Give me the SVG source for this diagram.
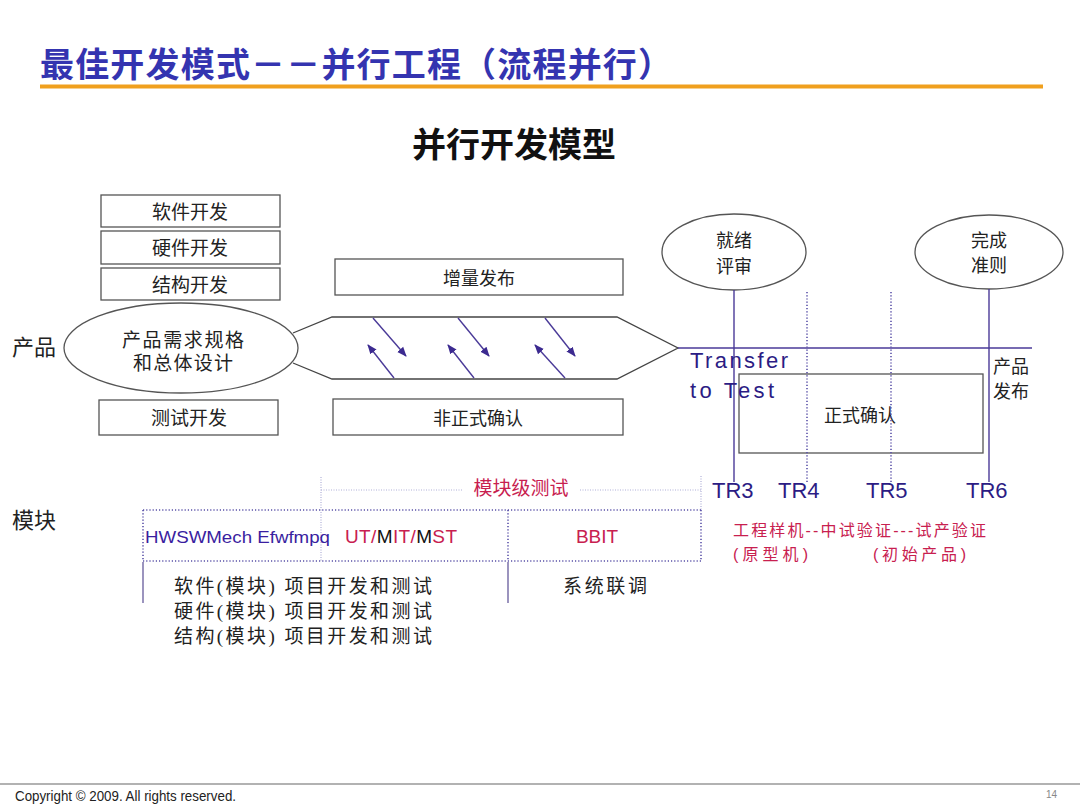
<svg xmlns="http://www.w3.org/2000/svg" width="1080" height="810" viewBox="0 0 1080 810">
<defs>
<style>
.cjk{font-family:"Liberation Serif","Noto Sans CJK SC",serif;fill:#222}
.box{fill:#fff;stroke:#555;stroke-width:1.3}
.pl{stroke:#4a3a98;stroke-width:1.4;fill:none}
.dot{stroke:#5a52a8;stroke-width:1.6;stroke-dasharray:1.2 2;fill:none}
.ldot{stroke:#b0b0d8;stroke-width:1.2;stroke-dasharray:1 1.5;fill:none}
.tr{font-family:"Liberation Sans","Noto Sans CJK SC",sans-serif;font-size:22px;fill:#2c1c84}
.red{font-family:"Liberation Sans","Noto Sans CJK SC",sans-serif;fill:#c8204f}
</style>
<marker id="ah" viewBox="0 0 10 10" refX="9" refY="5" markerWidth="7" markerHeight="7" orient="auto-start-reverse">
<path d="M0,1 L10,5 L0,9 z" fill="#3c2a90"/>
</marker>
</defs>
<rect width="1080" height="810" fill="#fff"/>

<g id="title">
<text x="40" y="77" font-family="Noto Sans CJK SC, sans-serif" font-weight="bold" font-size="34" fill="#3434b0" textLength="632" lengthAdjust="spacing">最佳开发模式－－并行工程（流程并行）</text>
<line x1="40" y1="86.5" x2="1043" y2="86.5" stroke="#f0a01e" stroke-width="4"/>
</g>
<text id="subtitle" x="514" y="157" text-anchor="middle" font-family="Noto Sans CJK SC, sans-serif" font-weight="bold" font-size="34" fill="#111">并行开发模型</text>

<text id="lbl-product" x="12" y="355" class="cjk" font-size="22">产品</text>
<text id="lbl-module" x="12" y="528" class="cjk" font-size="22">模块</text>

<g id="n-sw"><rect class="box" x="101" y="195" width="179" height="32"/><text class="cjk" x="190" y="219" font-size="19" text-anchor="middle">软件开发</text></g>
<g id="n-hw"><rect class="box" x="101" y="231" width="179" height="33"/><text class="cjk" x="190" y="255" font-size="19" text-anchor="middle">硬件开发</text></g>
<g id="n-mech"><rect class="box" x="101" y="268" width="179" height="32"/><text class="cjk" x="190" y="292" font-size="19" text-anchor="middle">结构开发</text></g>
<g id="n-test"><rect class="box" x="99" y="400" width="179" height="35"/><text class="cjk" x="189" y="425" font-size="19" text-anchor="middle">测试开发</text></g>

<g id="n-spec"><ellipse class="box" cx="181" cy="348" rx="117" ry="45"/>
<text class="cjk" x="122" y="347" font-size="19" textLength="122" lengthAdjust="spacing">产品需求规格</text>
<text class="cjk" x="133" y="370" font-size="19" textLength="100" lengthAdjust="spacing">和总体设计</text></g>

<g id="n-incr"><rect class="box" x="335" y="259" width="288" height="36"/><text class="cjk" x="479" y="285" font-size="18" text-anchor="middle">增量发布</text></g>
<g id="n-informal"><rect class="box" x="333" y="399" width="290" height="36"/><text class="cjk" x="478" y="425" font-size="18" text-anchor="middle">非正式确认</text></g>

<g id="n-hex"><path d="M293,333 L332,317 L617,317 L678,348 L617,379 L332,379 L293,363" fill="none" stroke="#444" stroke-width="1.3"/></g>

<g id="n-ready"><ellipse class="box" cx="734" cy="252" rx="72" ry="38"/>
<text class="cjk" x="734" y="247" font-size="18" text-anchor="middle">就绪</text>
<text class="cjk" x="734" y="273" font-size="18" text-anchor="middle">评审</text></g>
<g id="n-done"><ellipse class="box" cx="989" cy="252" rx="74" ry="37"/>
<text class="cjk" x="989" y="247" font-size="18" text-anchor="middle">完成</text>
<text class="cjk" x="989" y="272" font-size="18" text-anchor="middle">准则</text></g>

<g id="n-formal"><rect class="box" x="739" y="374" width="244" height="79" fill="none"/>
<text class="cjk" x="860" y="422" font-size="18" text-anchor="middle">正式确认</text></g>

<g id="connectors">
<line class="pl" x1="678" y1="348" x2="1032" y2="348"/>
<line class="pl" x1="734" y1="290" x2="734" y2="482"/>
<line class="pl" x1="989" y1="289" x2="989" y2="482"/>
<line class="dot" x1="807" y1="292" x2="807" y2="482"/>
<line class="dot" x1="891" y1="292" x2="891" y2="482"/>
<line class="pl" stroke-width="1.1" x1="373" y1="318" x2="406" y2="356" marker-end="url(#ah)"/>
<line class="pl" stroke-width="1.1" x1="458" y1="318" x2="489" y2="356" marker-end="url(#ah)"/>
<line class="pl" stroke-width="1.1" x1="545" y1="318" x2="575" y2="356" marker-end="url(#ah)"/>
<line class="pl" stroke-width="1.1" x1="394" y1="378" x2="368" y2="345" marker-end="url(#ah)"/>
<line class="pl" stroke-width="1.1" x1="474" y1="378" x2="448" y2="345" marker-end="url(#ah)"/>
<line class="pl" stroke-width="1.1" x1="565" y1="378" x2="535" y2="345" marker-end="url(#ah)"/>
<line class="ldot" x1="321" y1="490" x2="462" y2="490"/>
<line class="ldot" x1="580" y1="490" x2="701" y2="490"/>
<line class="ldot" x1="321" y1="477" x2="321" y2="561"/>
<line class="ldot" x1="701" y1="476" x2="701" y2="510"/>
<line class="dot" x1="143" y1="510" x2="701" y2="510"/>
<line class="dot" x1="143" y1="561" x2="701" y2="561"/>
<line class="dot" x1="143" y1="510" x2="143" y2="561"/>
<line class="dot" x1="508" y1="510" x2="508" y2="561"/>
<line class="dot" x1="701" y1="510" x2="701" y2="561"/>
<line stroke="#7a70a8" stroke-width="1.5" x1="143" y1="562" x2="143" y2="603"/>
<line stroke="#7a70a8" stroke-width="1.5" x1="508" y1="562" x2="508" y2="603"/>
</g>

<g id="labels">
<text class="tr" x="690" y="368" textLength="98" lengthAdjust="spacing">Transfer</text>
<text class="tr" x="690" y="398" textLength="84" lengthAdjust="spacing">to Test</text>
<text class="cjk" x="993" y="373" font-size="18">产品</text>
<text class="cjk" x="993" y="398" font-size="18">发布</text>
<text class="tr" x="712" y="498">TR3</text>
<text class="tr" x="778" y="498">TR4</text>
<text class="tr" x="866" y="498">TR5</text>
<text class="tr" x="966" y="498">TR6</text>
<text class="red" x="521" y="495" font-size="19" text-anchor="middle">模块级测试</text>
<text x="145" y="543" font-family="Liberation Sans, sans-serif" font-size="17" fill="#3a1ea0" textLength="185" lengthAdjust="spacingAndGlyphs">HWSWMech  Efwfmpq</text>
<text class="red" x="345" y="543" font-size="19" textLength="112" lengthAdjust="spacing">UT/<tspan fill="#111">M</tspan>IT/<tspan fill="#111">M</tspan>ST</text>
<text class="red" x="597" y="543" font-size="19" text-anchor="middle">BBIT</text>
<text class="red" x="733" y="536" font-size="16" textLength="253" lengthAdjust="spacing">工程样机--中试验证---试产验证</text>
<text class="red" x="733" y="560" font-size="16" textLength="75" lengthAdjust="spacing">(原型机)</text>
<text class="red" x="873" y="560" font-size="16" textLength="93" lengthAdjust="spacing">(初始产品)</text>
<text class="cjk" x="174" y="593" font-size="19" textLength="258" lengthAdjust="spacing">软件(模块) 项目开发和测试</text>
<text class="cjk" x="174" y="618" font-size="19" textLength="258" lengthAdjust="spacing">硬件(模块) 项目开发和测试</text>
<text class="cjk" x="174" y="643" font-size="19" textLength="258" lengthAdjust="spacing">结构(模块) 项目开发和测试</text>
<text class="cjk" x="563" y="593" font-size="19" textLength="84" lengthAdjust="spacing">系统联调</text>
</g>

<g id="footer">
<line x1="0" y1="784" x2="1080" y2="784" stroke="#999" stroke-width="1.5"/>
<text x="15" y="801" font-family="Liberation Sans, sans-serif" font-size="14" fill="#222" textLength="221" lengthAdjust="spacingAndGlyphs">Copyright © 2009. All rights reserved.</text>
<text x="1057" y="798" font-family="Liberation Sans, sans-serif" font-size="10" fill="#888" text-anchor="end">14</text>
</g>
</svg>
